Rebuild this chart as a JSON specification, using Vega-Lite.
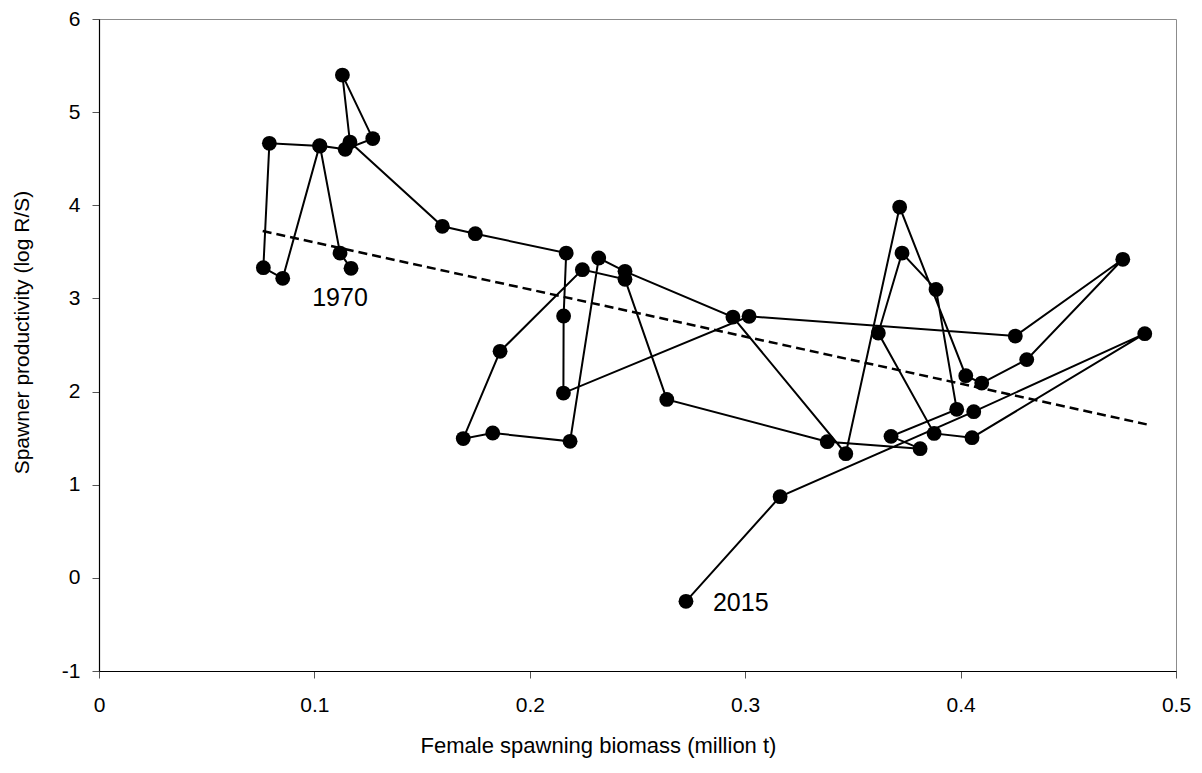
{
  "$schema": "https://vega.github.io/schema/vega-lite/v6.json",
  "width": 1077,
  "height": 652,
  "autosize": {"type": "none"},
  "padding": {"left": 99, "top": 19, "right": 26, "bottom": 102},
  "background": "white",
  "config": {
    "font": "Liberation Sans",
    "view": {"stroke": "#8c8c8c", "strokeWidth": 1}
  },
  "datasets": {
    "series": [
      {"order": 1, "biomass": 0.1170, "productivity": 3.323, "label": "1970"},
      {"order": 2, "biomass": 0.1119, "productivity": 3.487},
      {"order": 3, "biomass": 0.1026, "productivity": 4.636},
      {"order": 4, "biomass": 0.0791, "productivity": 4.665},
      {"order": 5, "biomass": 0.0763, "productivity": 3.330},
      {"order": 6, "biomass": 0.0853, "productivity": 3.216},
      {"order": 7, "biomass": 0.1024, "productivity": 4.640},
      {"order": 8, "biomass": 0.1143, "productivity": 4.601},
      {"order": 9, "biomass": 0.1271, "productivity": 4.716},
      {"order": 10, "biomass": 0.1130, "productivity": 5.398},
      {"order": 11, "biomass": 0.1165, "productivity": 4.679},
      {"order": 12, "biomass": 0.1594, "productivity": 3.774},
      {"order": 13, "biomass": 0.1747, "productivity": 3.695},
      {"order": 14, "biomass": 0.2169, "productivity": 3.487},
      {"order": 15, "biomass": 0.2157, "productivity": 2.811},
      {"order": 16, "biomass": 0.2156, "productivity": 1.984},
      {"order": 17, "biomass": 0.3018, "productivity": 2.808},
      {"order": 18, "biomass": 0.4254, "productivity": 2.596},
      {"order": 19, "biomass": 0.4753, "productivity": 3.420},
      {"order": 20, "biomass": 0.4307, "productivity": 2.343},
      {"order": 21, "biomass": 0.4098, "productivity": 2.091},
      {"order": 22, "biomass": 0.4024, "productivity": 2.171},
      {"order": 23, "biomass": 0.3717, "productivity": 3.981},
      {"order": 24, "biomass": 0.3467, "productivity": 1.333},
      {"order": 25, "biomass": 0.2943, "productivity": 2.800},
      {"order": 26, "biomass": 0.2442, "productivity": 3.291},
      {"order": 27, "biomass": 0.2320, "productivity": 3.434},
      {"order": 28, "biomass": 0.2187, "productivity": 1.466},
      {"order": 29, "biomass": 0.1828, "productivity": 1.555},
      {"order": 30, "biomass": 0.1691, "productivity": 1.495},
      {"order": 31, "biomass": 0.1862, "productivity": 2.432},
      {"order": 32, "biomass": 0.2244, "productivity": 3.309},
      {"order": 33, "biomass": 0.2442, "productivity": 3.205},
      {"order": 34, "biomass": 0.2636, "productivity": 1.916},
      {"order": 35, "biomass": 0.3381, "productivity": 1.462},
      {"order": 36, "biomass": 0.3812, "productivity": 1.387},
      {"order": 37, "biomass": 0.3677, "productivity": 1.519},
      {"order": 38, "biomass": 0.3982, "productivity": 1.809},
      {"order": 39, "biomass": 0.3886, "productivity": 3.097},
      {"order": 40, "biomass": 0.3728, "productivity": 3.487},
      {"order": 41, "biomass": 0.3618, "productivity": 2.628},
      {"order": 42, "biomass": 0.3877, "productivity": 1.551},
      {"order": 43, "biomass": 0.4053, "productivity": 1.505},
      {"order": 44, "biomass": 0.4855, "productivity": 2.622},
      {"order": 45, "biomass": 0.4061, "productivity": 1.784},
      {"order": 46, "biomass": 0.3162, "productivity": 0.872},
      {"order": 47, "biomass": 0.2725, "productivity": -0.252, "label": "2015"}
    ],
    "trend": [
      {"biomass": 0.0760, "productivity": 3.723},
      {"biomass": 0.4864, "productivity": 1.648}
    ]
  },
  "encoding": {
    "x": {
      "field": "biomass",
      "type": "quantitative",
      "scale": {"domain": [0, 0.5], "nice": false, "zero": false},
      "axis": {
        "title": "Female spawning biomass (million t)",
        "values": [0, 0.1, 0.2, 0.3, 0.4, 0.5],
        "labelExpr": "'' + datum.value",
        "labelFlush": false,
        "grid": false,
        "domainColor": "black",
        "domainWidth": 1.2,
        "tickColor": "#555",
        "tickSize": 7,
        "labelFontSize": 21,
        "labelColor": "black",
        "labelPadding": 16,
        "titleFontSize": 22,
        "titleFontWeight": "normal",
        "titleColor": "black",
        "titlePadding": 20,
        "titleX": 499
      }
    },
    "y": {
      "field": "productivity",
      "type": "quantitative",
      "scale": {"domain": [-1, 6], "nice": false, "zero": false},
      "axis": {
        "title": "Spawner productivity (log R/S)",
        "values": [-1, 0, 1, 2, 3, 4, 5, 6],
        "labelExpr": "'' + datum.value",
        "grid": false,
        "domainColor": "black",
        "domainWidth": 1.2,
        "tickColor": "#555",
        "tickSize": 7,
        "labelFontSize": 21,
        "labelColor": "black",
        "labelPadding": 12,
        "titleFontSize": 21,
        "titleFontWeight": "normal",
        "titleColor": "black",
        "titlePadding": 29,
        "titleY": 313
      }
    }
  },
  "layer": [
    {
      "data": {"name": "trend"},
      "mark": {"type": "line", "color": "black", "strokeWidth": 2.5, "strokeDash": [9, 5]},
      "encoding": {}
    },
    {
      "data": {"name": "series"},
      "mark": {"type": "line", "color": "black", "strokeWidth": 2},
      "encoding": {"order": {"field": "order", "type": "quantitative"}}
    },
    {
      "data": {"name": "series"},
      "mark": {"type": "circle", "color": "black", "opacity": 1, "size": 220},
      "encoding": {}
    },
    {
      "data": {"name": "series"},
      "transform": [{"filter": "datum.label == '1970'"}],
      "mark": {"type": "text", "fontSize": 25, "color": "black", "align": "center", "baseline": "middle", "dx": -11, "dy": 30},
      "encoding": {"text": {"field": "label"}}
    },
    {
      "data": {"name": "series"},
      "transform": [{"filter": "datum.label == '2015'"}],
      "mark": {"type": "text", "fontSize": 25, "color": "black", "align": "left", "baseline": "middle", "dx": 27, "dy": 2},
      "encoding": {"text": {"field": "label"}}
    }
  ]
}
